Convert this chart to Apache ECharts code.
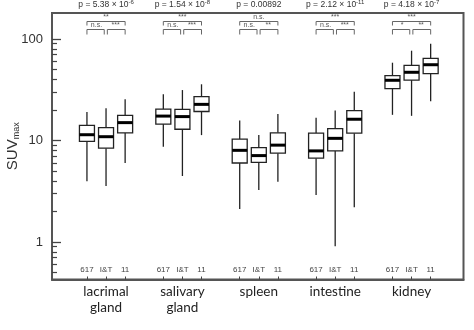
<!DOCTYPE html>
<html>
<head>
<meta charset="utf-8">
<script src="https://cdn.jsdelivr.net/npm/echarts@6/dist/echarts.min.js"></script>
<style>html,body{margin:0;padding:0;background:#fff}#c{width:474px;height:330px}</style>
</head>
<body>
<div id="c"></div>
<script>
// ---- data ----
const organs = ['lacrimal\ngland', 'salivary\ngland', 'spleen', 'intestine', 'kidney'];
const tracers = ['617', 'I&T', '11'];
// each row: [min, Q1, median, Q3, max] for 617, I&T, 11
const lacrimal = [[3.96, 9.8, 11.4, 14.1, 19.1], [3.56, 8.4, 10.9, 13.4, 20.8], [6.0, 11.9, 15.0, 17.7, 25.5]];
const salivary = [[8.7, 14.5, 17.4, 20.4, 28.5], [4.47, 12.9, 17.2, 20.3, 31.4], [11.3, 19.3, 22.7, 27.0, 35.8]];
const spleen = [[2.11, 6.0, 8.0, 10.3, 15.7], [3.25, 6.1, 7.1, 8.5, 11.3], [3.93, 7.5, 9.0, 11.9, 18.2]];
const intestine = [[2.9, 6.7, 7.9, 11.8, 16.8], [0.91, 7.9, 10.5, 13.1, 19.7], [2.2, 11.8, 16.2, 19.7, 30.3]];
const kidney = [[17.9, 32.4, 39.2, 43.5, 58.4], [17.5, 39.4, 47.0, 55.1, 76.7], [24.3, 45.5, 55.8, 64.5, 89.9]];
const pMantissa = ['5.38', '1.54', '0.00892', '2.12', '4.18'];
const pExponent = ['-6', '-8', '', '-11', '-7'];
const sigAll = ['**', '***', 'n.s.', '***', '***'];
const sigLeft = ['n.s.', 'n.s.', 'n.s.', 'n.s.', '*'];
const sigRight = ['***', '***', '**', '***', '**'];
const yMajorTicks = [1, 10, 100];
const yMinorTicks = [0.5, 0.6, 0.7, 0.8, 0.9, 2, 3, 4, 5, 6, 7, 8, 9, 20, 30, 40, 50, 60, 70, 80, 90];

// ---- build ----
const allGroups = [lacrimal, salivary, spleen, intestine, kidney];
const groupCenters = organs.map((_, g) => 4 * (g + 1));
const boxPositions = [];
const boxData = [];
allGroups.forEach((grp, g) => {
  grp.forEach((st, t) => {
    const pos = groupCenters[g] + t - 1;
    boxPositions.push(pos);
    boxData.push([pos].concat(st));
  });
});
const annotData = organs.map((_, g) => [groupCenters[g], g]);
const tracerLabel = v => { const i = boxPositions.indexOf(Math.round(v)); return i < 0 ? '' : tracers[i % 3]; };
const organLabel = v => { const i = groupCenters.indexOf(Math.round(v)); return i < 0 ? '' : organs[i]; };

const X_MIN = 1.17, X_MAX = 22.72, Y_MIN = 0.427, Y_MAX = 180.4;
const FONT = 'Liberation Sans';

const chart = echarts.init(document.getElementById('c'), null, {renderer: 'canvas'});
chart.setOption({
  animation: false,
  backgroundColor: '#fff',
  grid: {left: 52, right: 10.5, top: 13, bottom: 50.5, containLabel: false, outerBoundsMode: 'none',
    show: true, borderColor: '#555', borderWidth: 2, backgroundColor: 'transparent'},
  xAxis: [{
    type: 'value', min: X_MIN, max: X_MAX, position: 'bottom',
    axisLine: {show: true, onZero: false, lineStyle: {color: '#555', width: 2}},
    splitLine: {show: false},
    axisTick: {show: true, inside: true, length: 3, customValues: boxPositions, lineStyle: {color: '#444', width: 1}},
    axisLabel: {show: true, inside: true, margin: 6, customValues: boxPositions, hideOverlap: false,
      formatter: tracerLabel, fontFamily: FONT, fontSize: 8, color: '#444'}
  }, {
    type: 'value', min: X_MIN, max: X_MAX, position: 'bottom', offset: 0,
    axisLine: {show: false}, splitLine: {show: false}, axisTick: {show: false},
    axisLabel: {show: true, margin: 4, customValues: groupCenters, hideOverlap: false,
      formatter: organLabel, fontFamily: 'Lato', fontSize: 13.5, lineHeight: 16, color: '#222'}
  }],
  yAxis: [{
    type: 'log', logBase: 10, min: Y_MIN, max: Y_MAX, position: 'left',
    name: '{a|SUV}{b|max}', nameLocation: 'middle', nameGap: 31, nameRotate: 90, nameMoveOverlap: false,
    nameTextStyle: {rich: {a: {fontFamily: FONT, fontSize: 15, color: '#333'}, b: {fontFamily: FONT, fontSize: 9, color: '#333', padding: [7, 0, 0, 0]}}},
    axisLine: {show: true, lineStyle: {color: '#555', width: 2}},
    splitLine: {show: false},
    minorTick: {show: false},
    axisTick: {show: true, inside: true, length: 9, customValues: yMajorTicks, lineStyle: {color: '#444', width: 1.3}},
    axisLabel: {show: true, margin: 9, customValues: yMajorTicks, formatter: v => String(Math.round(v)), fontFamily: FONT, fontSize: 13, color: '#333'}
  }, {
    type: 'log', logBase: 10, min: Y_MIN, max: Y_MAX, position: 'left', offset: 0,
    axisLine: {show: false}, splitLine: {show: false}, axisLabel: {show: false},
    axisTick: {show: true, inside: true, length: 5, customValues: yMinorTicks, lineStyle: {color: '#444', width: 1.2}}
  }],
  series: [{
    type: 'custom', xAxisIndex: 0, yAxisIndex: 0, data: boxData, clip: false,
    encode: {x: 0, y: [1, 2, 3, 4, 5]},
    renderItem: (params, api) => {
      const x = api.value(0);
      const pMin = api.coord([x, api.value(1)]);
      const pQ1 = api.coord([x, api.value(2)]);
      const pMed = api.coord([x, api.value(3)]);
      const pQ3 = api.coord([x, api.value(4)]);
      const pMax = api.coord([x, api.value(5)]);
      const cx = pMin[0], hw = 7.5;
      const st = {stroke: '#222', lineWidth: 1.3};
      return {type: 'group', children: [
        {type: 'line', shape: {x1: cx, y1: pMax[1], x2: cx, y2: pQ3[1]}, style: st},
        {type: 'line', shape: {x1: cx, y1: pQ1[1], x2: cx, y2: pMin[1]}, style: st},
        {type: 'rect', shape: {x: cx - hw, y: pQ3[1], width: 2 * hw, height: pQ1[1] - pQ3[1]}, style: {fill: '#fff', stroke: '#222', lineWidth: 1.3}},
        {type: 'line', shape: {x1: cx - hw, y1: pMed[1], x2: cx + hw, y2: pMed[1]}, style: {stroke: '#000', lineWidth: 3}}
      ]};
    }
  }, {
    type: 'custom', xAxisIndex: 0, yAxisIndex: 0, data: annotData, clip: false,
    encode: {x: 0},
    renderItem: (params, api) => {
      const c = api.value(0);
      const g = api.value(1);
      const top = params.coordSys.y;
      const xl = api.coord([c - 1, 10])[0];
      const xm = api.coord([c, 10])[0];
      const xr = api.coord([c + 1, 10])[0];
      const bs = {stroke: '#666', lineWidth: 1, fill: null};
      const y1 = top + 8.5, y1b = top + 12.5, y2 = top + 16.5, y2b = top + 21.5;
      const ts = (txt, x, y, size) => ({type: 'text', x: x, y: y, style: {text: txt, fontFamily: FONT, fontSize: size, fill: '#555', align: 'center', verticalAlign: 'middle'}});
      const pText = pExponent[g] ? '{n|p = ' + pMantissa[g] + ' × 10}{s|' + pExponent[g] + '}' : '{n|p = ' + pMantissa[g] + '}';
      return {type: 'group', children: [
        {type: 'polyline', shape: {points: [[xl, y1b], [xl, y1], [xr, y1], [xr, y1b]]}, style: bs},
        {type: 'polyline', shape: {points: [[xl, y2b], [xl, y2], [xm - 1.8, y2], [xm - 1.8, y2b]]}, style: bs},
        {type: 'polyline', shape: {points: [[xm + 1.3, y2b], [xm + 1.3, y2], [xr, y2], [xr, y2b]]}, style: bs},
        ts(sigAll[g], xm, top + 4.5, 7),
        ts(sigLeft[g], (xl + xm) / 2, top + 12.5, 7),
        ts(sigRight[g], (xm + xr) / 2, top + 12.5, 7),
        {type: 'text', x: xm, y: top - 8, style: {text: pText, align: 'center', verticalAlign: 'middle',
          rich: {n: {fontFamily: FONT, fontSize: 8.5, fill: '#333'}, s: {fontFamily: FONT, fontSize: 6, fill: '#333', padding: [0, 0, 6, 0]}}}}
      ]};
    }
  }]
});
</script>
</body>
</html>
